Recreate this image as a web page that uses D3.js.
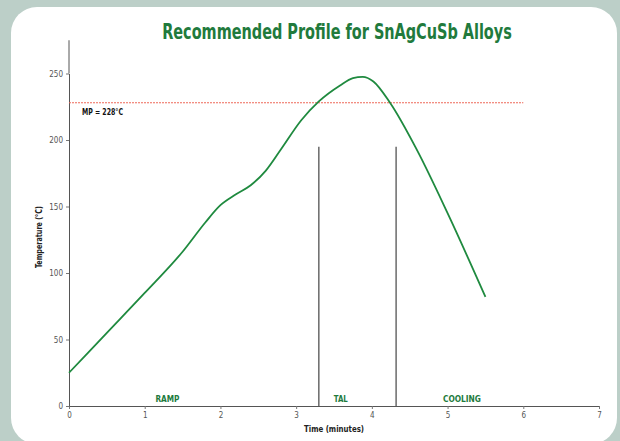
<!DOCTYPE html>
<html><head><meta charset="utf-8">
<script src="https://cdn.jsdelivr.net/npm/d3@7"></script>
<style>
html,body{margin:0;padding:0;background:#bccfc8;}
svg{display:block;font-family:"Liberation Sans Narrow","DejaVu Sans Condensed",sans-serif;}
</style></head><body>
<svg id="c" width="620" height="441"></svg>
<script>
const times = [0,0.5,1,1.5,1.8,2,2.2,2.4,2.6,2.8,3.07,3.3,3.58,3.75,3.88,4.02,4.24,4.6,5.0,5.5];
const temps = [25,55,85,116,138,151,159,166,177,193,215,229,241,246.5,247.5,244,228,192,145,82];
const xTicks = [0,1,2,3,4,5,6,7];
const yTicks = [0,50,100,150,200,250];
const meltPoint = 228;
const phaseBounds = [3.3,4.32];
const phaseTop = 195;
const phaseLabels = ["RAMP","TAL","COOLING"];
const phaseLabelX = [1.3,3.59,5.19];

const svg = d3.select("#c");
svg.append("rect").attr("x",11).attr("y",7).attr("width",606).attr("height",437)
  .attr("rx",26).attr("fill","#fff");

const x = d3.scaleLinear().domain([0,7]).range([69,599]);
const y = d3.scaleLinear().domain([0,250]).range([406,73.5]);

const title = svg.append("text").attr("x",0).attr("y",0).attr("text-anchor","middle")
  .attr("font-size",22).attr("font-weight","bold").attr("fill","#217a3c")
  .text("Recommended Profile for SnAgCuSb Alloys");
const tw = title.node().getComputedTextLength();
title.attr("transform",`translate(337,39) scale(${350/tw},1)`);

const fmt = d3.format("d");
const gx = svg.append("g").attr("transform",`translate(0,${y(0)})`)
  .call(d3.axisBottom(x).tickValues(xTicks).tickFormat(fmt).tickSize(3).tickSizeOuter(0).tickPadding(3));
const gy = svg.append("g").attr("transform",`translate(${x(0)},0)`)
  .call(d3.axisLeft(y).tickValues(yTicks).tickFormat(fmt).tickSize(3).tickSizeOuter(0).tickPadding(3));
[gx,gy].forEach(g=>{
  g.select(".domain").attr("stroke","#555");
  g.selectAll(".tick line").attr("stroke","#777");
  g.selectAll(".tick text").attr("fill","#555").attr("font-size",8)
   .attr("font-family",'"Liberation Sans Narrow","DejaVu Sans Condensed",sans-serif');
});
gy.append("line").attr("x1",0).attr("x2",0).attr("y1",y(250)).attr("y2",y(275)).attr("stroke","#555");

svg.append("text").attr("transform",`translate(42,${y(127)}) rotate(-90)`)
  .attr("text-anchor","middle").attr("font-size",9).attr("font-weight","bold").attr("fill","#222")
  .attr("textLength",62).attr("lengthAdjust","spacingAndGlyphs")
  .text("Temperature (°C)");
svg.append("text").attr("x",334).attr("y",432).attr("text-anchor","middle")
  .attr("font-size",9).attr("font-weight","bold").attr("fill","#222")
  .attr("textLength",60).attr("lengthAdjust","spacingAndGlyphs")
  .text("Time (minutes)");

svg.append("line").attr("x1",x(0)).attr("x2",x(6)).attr("y1",y(meltPoint)).attr("y2",y(meltPoint))
  .attr("stroke","#ee6a5a").attr("stroke-width",1.2).attr("stroke-dasharray","2,1");
svg.append("text").attr("x",82).attr("y",y(meltPoint)+12).attr("font-size",8.5)
  .attr("font-weight","bold").attr("fill","#111")
  .attr("textLength",41).attr("lengthAdjust","spacingAndGlyphs").text("MP = 228°C");

phaseBounds.forEach(b=>{
  svg.append("line").attr("x1",x(b)).attr("x2",x(b)).attr("y1",y(0)).attr("y2",y(phaseTop))
    .attr("stroke","#444").attr("stroke-width",1.2);
});
const phaseW = [24,14,38];
phaseLabels.forEach((t,i)=>{
  svg.append("text").attr("x",x(phaseLabelX[i])).attr("y",y(0)-4).attr("text-anchor","middle")
    .attr("font-size",9.5).attr("font-weight","bold").attr("fill","#217a3c")
    .attr("textLength",phaseW[i]).attr("lengthAdjust","spacingAndGlyphs").text(t);
});

const data = times.map((t,i)=>[t,temps[i]]);
svg.append("path").datum(data).attr("fill","none").attr("stroke","#1f8a3f").attr("stroke-width",1.8)
  .attr("d",d3.line().x(d=>x(d[0])).y(d=>y(d[1])).curve(d3.curveMonotoneX));
</script></body></html>
